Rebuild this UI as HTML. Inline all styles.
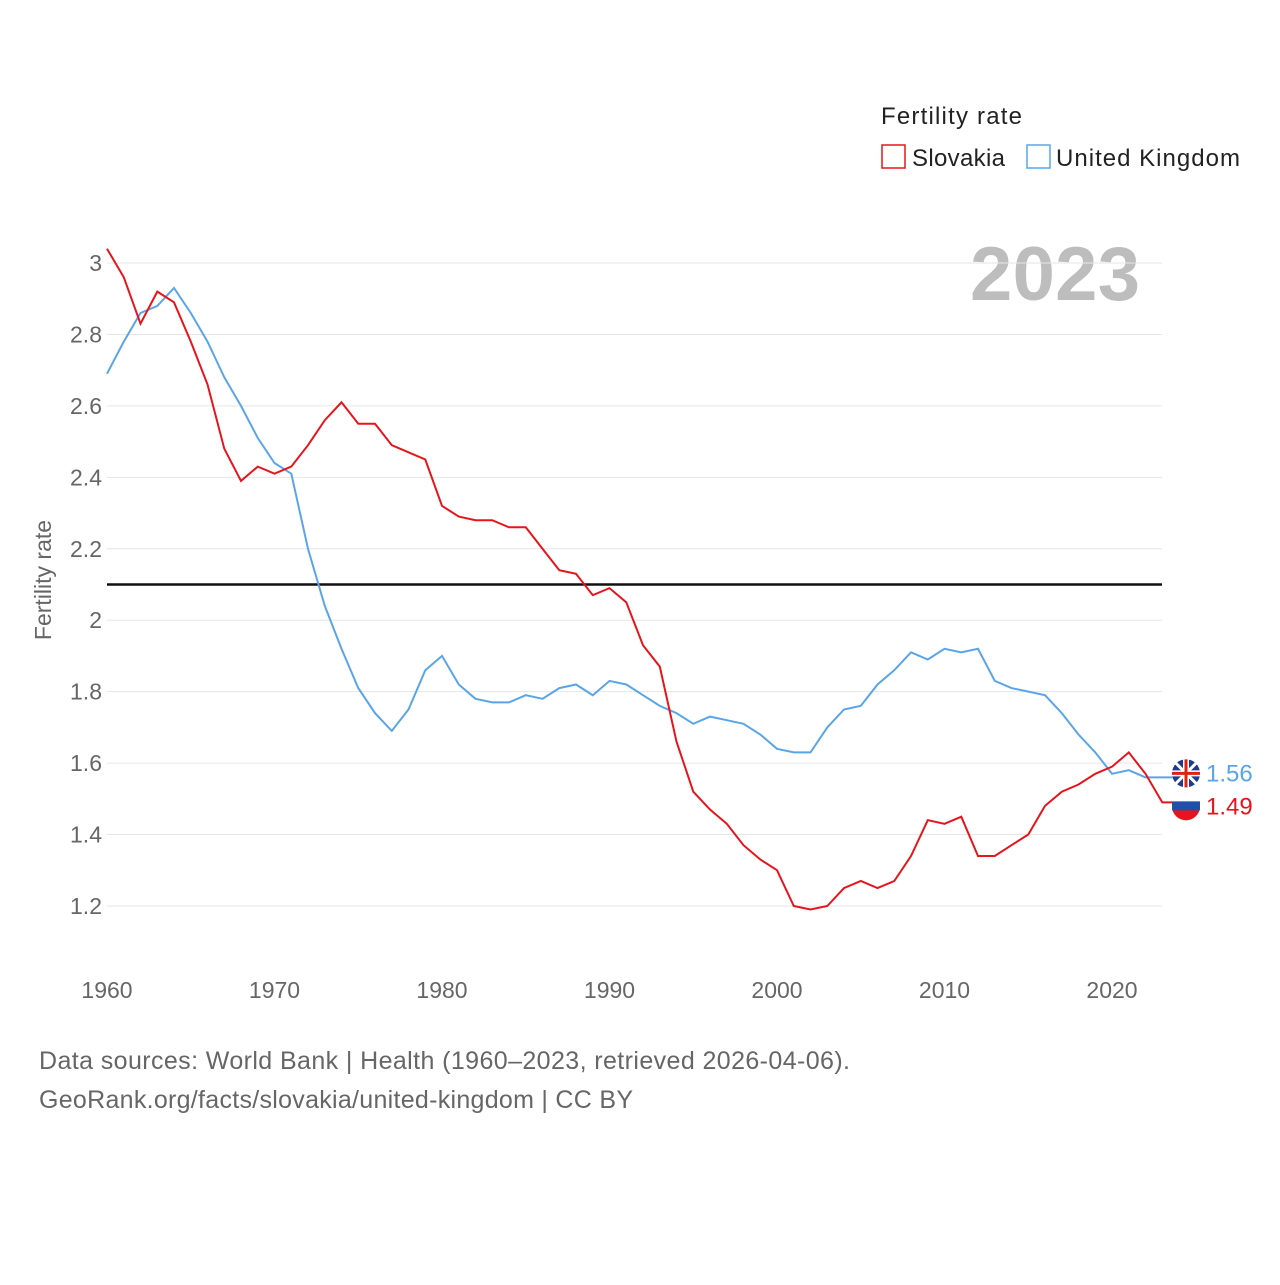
<!DOCTYPE html>
<html><head><meta charset="utf-8"><style>
body{margin:0;background:#fff;font-family:"Liberation Sans",sans-serif}
svg text{font-family:"Liberation Sans",sans-serif}
</style></head><body>
<svg id="c" width="1280" height="1280" viewBox="0 0 1280 1280">
<text x="881" y="124" font-size="24" fill="#222" textLength="141">Fertility rate</text>
<g><rect x="882" y="145" width="23" height="23" fill="none" stroke="#e8141c" stroke-width="1.5"/><text x="912" y="166" font-size="24" fill="#222" textLength="93">Slovakia</text></g>
<g><rect x="1027" y="145" width="23" height="23" fill="none" stroke="#5aa5e8" stroke-width="1.5"/><text x="1056" y="166" font-size="24" fill="#222" textLength="184">United Kingdom</text></g>
<text x="1140" y="300" font-size="76" font-weight="bold" fill="#bdbdbd" text-anchor="end" textLength="170">2023</text>
<text transform="translate(51,580) rotate(-90)" font-size="23" fill="#666" text-anchor="middle">Fertility rate</text>
<g id="grid"></g><g id="lines"></g>
<text x="39" y="1069" font-size="25" fill="#666" textLength="811">Data sources: World Bank | Health (1960–2023, retrieved 2026-04-06).</text>
<text x="39" y="1108" font-size="25" fill="#666" textLength="594">GeoRank.org/facts/slovakia/united-kingdom | CC BY</text>
</svg>
<script>
const years=[];for(let y=1960;y<=2023;y++)years.push(y);
const slovakia=[3.04,2.96,2.83,2.92,2.89,2.78,2.66,2.48,2.39,2.43,2.41,2.43,2.49,2.56,2.61,2.55,2.55,2.49,2.47,2.45,2.32,2.29,2.28,2.28,2.26,2.26,2.20,2.14,2.13,2.07,2.09,2.05,1.93,1.87,1.66,1.52,1.47,1.43,1.37,1.33,1.30,1.20,1.19,1.20,1.25,1.27,1.25,1.27,1.34,1.44,1.43,1.45,1.34,1.34,1.37,1.40,1.48,1.52,1.54,1.57,1.59,1.63,1.57,1.49];
const uk=[2.69,2.78,2.86,2.88,2.93,2.86,2.78,2.68,2.60,2.51,2.44,2.41,2.20,2.04,1.92,1.81,1.74,1.69,1.75,1.86,1.90,1.82,1.78,1.77,1.77,1.79,1.78,1.81,1.82,1.79,1.83,1.82,1.79,1.76,1.74,1.71,1.73,1.72,1.71,1.68,1.64,1.63,1.63,1.70,1.75,1.76,1.82,1.86,1.91,1.89,1.92,1.91,1.92,1.83,1.81,1.80,1.79,1.74,1.68,1.63,1.57,1.58,1.56,1.56];
const yTicks=[1.2,1.4,1.6,1.8,2,2.2,2.4,2.6,2.8,3];
const xTicks=[1960,1970,1980,1990,2000,2010,2020];
const refLine=2.1;
const X=y=>107+(y-1960)*1005/60;
const Y=v=>263+(3-v)*357.2;
const NS="http://www.w3.org/2000/svg";
function mk(t,a,p){const e=document.createElementNS(NS,t);for(const k in a)e.setAttribute(k,a[k]);p.appendChild(e);return e;}
const g=document.getElementById('grid'),L=document.getElementById('lines');
yTicks.forEach(v=>{
 const l=mk('line',{x1:107,x2:1162,y1:Y(v),y2:Y(v),stroke:'#e6e6e6'},g);
 
 
 const t=mk('text',{x:102,y:Y(v)+8,'font-size':23,fill:'#666','text-anchor':'end'},g);t.textContent=String(v);
 
 
});
xTicks.forEach(v=>{
 const t=mk('text',{x:X(v),y:998,'font-size':23,fill:'#666','text-anchor':'middle'},g);t.textContent=String(v);
 
 
});
const rl=mk('line',{x1:107,x2:1162,y1:Y(refLine),y2:Y(refLine),stroke:'#111','stroke-width':2.5},g);


function series(vals,col,name,flag){
 const d=vals.map((v,i)=>(i?'L':'M')+X(years[i]).toFixed(1)+' '+Y(v).toFixed(1)).join(' ')+' h10';
 const p=mk('path',{d,fill:'none',stroke:col,'stroke-width':2},L);
 
 
 const last=vals[vals.length-1];const cy=Y(last)+(flag==='uk'?-4:4);
 const c=mk('circle',{cx:1186,cy,r:14,fill:col},L);
 
 
 if(flag==='uk'){mk('circle',{cx:1186,cy,r:14,fill:'#1f3a8f'},L);
  mk('path',{d:`M1176 ${cy-10}L1196 ${cy+10}M1196 ${cy-10}L1176 ${cy+10}`,stroke:'#fff','stroke-width':3},L);
  mk('path',{d:`M1172 ${cy}H1200M1186 ${cy-14}V${cy+14}`,stroke:'#fff','stroke-width':6},L);
  mk('path',{d:`M1172 ${cy}H1200M1186 ${cy-14}V${cy+14}`,stroke:'#d21','stroke-width':3},L);}
 else{mk('path',{d:`M1172 ${cy-4}H1200V${cy-14}H1172Z`,fill:'#fff'},L);
  mk('rect',{x:1172,y:cy-5,width:28,height:9,fill:'#1f4fa8'},L);}
 const t=mk('text',{x:1206,y:cy+8,'font-size':24,fill:col},L);t.textContent=last.toFixed(2);
 
 
}
series(uk,'#5aa5e8','uk','uk');
series(slovakia,'#e8141c','slovakia','sk');
</script>
</body></html>
